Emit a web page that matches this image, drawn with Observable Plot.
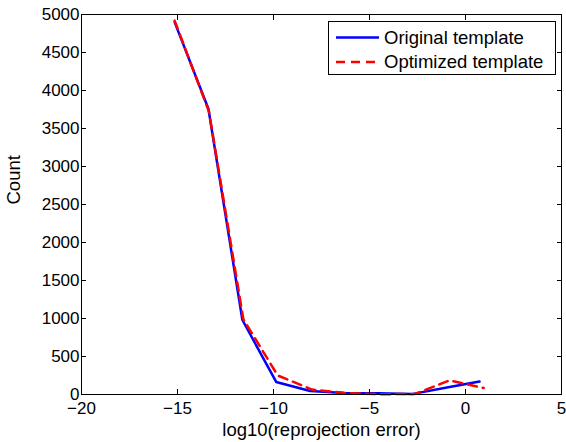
<!DOCTYPE html>
<html>
<head>
<meta charset="utf-8">
<script src="https://cdn.jsdelivr.net/npm/d3@7"></script>
<script src="https://cdn.jsdelivr.net/npm/@observablehq/plot@0.6"></script>
<style>
  html, body { margin: 0; padding: 0; background: #fff; }
  #chart svg { font-family: "Liberation Sans", Helvetica, Arial, sans-serif; }
</style>
</head>
<body>
<div id="chart"></div>
<script>
// Series names
const seriesNames = ["Original template", "Optimized template"];
// Original template (blue)
const origX = [-15.15, -13.39, -11.62, -9.86, -8.09, -6.33, -4.57, -2.80, -1.04, 0.73];
const origY = [4900, 3760, 980, 165, 45, 20, 15, 5, 88, 170];
// Optimized template (red dashed)
const optX = [-15.15, -13.36, -11.57, -9.78, -7.99, -6.20, -4.41, -2.63, -0.84, 0.95];
const optY = [4920, 3720, 990, 250, 65, 18, 3, 8, 185, 85];
// Ticks
const xTicks = [-20, -15, -10, -5, 0, 5];
const yTicks = [0, 500, 1000, 1500, 2000, 2500, 3000, 3500, 4000, 4500, 5000];

const orig = origX.map((x, i) => ({x, y: origY[i]}));
const opt = optX.map((x, i) => ({x, y: optY[i]}));

const FONT = "'Liberation Sans', Helvetica, Arial, sans-serif";

const plot = Plot.plot({
  width: 566,
  height: 442,
  marginLeft: 81,
  marginRight: 5,
  marginTop: 14,
  marginBottom: 48,
  style: {fontSize: "17px", fontFamily: FONT, color: "#000", background: "#fff"},
  x: {domain: [-20, 5]},
  y: {domain: [0, 5000]},
  marks: [
    Plot.lineY(orig, {x: "x", y: "y", stroke: "#0000ff", strokeWidth: 2.5}),
    Plot.lineY(opt, {x: "x", y: "y", stroke: "#ff0000", strokeWidth: 2.5, strokeDasharray: "9,6"}),
    Plot.frame({stroke: "#000", strokeWidth: 1}),
    Plot.axisX({ticks: xTicks, tickSize: -5, tickPadding: 12, label: null}),
    Plot.axisX({anchor: "top", ticks: xTicks, tickSize: -5, text: null, label: null}),
    Plot.axisY({ticks: yTicks, tickFormat: "d", tickSize: -5, tickPadding: 7, label: null}),
    Plot.axisY({anchor: "right", ticks: yTicks, tickSize: -5, text: null, label: null}),
    Plot.text(["log10(reprojection error)"], {frameAnchor: "bottom", dy: 41, fontSize: 18.5, text: d => d, lineAnchor: "bottom"}),
    Plot.text(["Count"], {frameAnchor: "left", dx: -67, rotate: -90, fontSize: 18.5, text: d => d})
  ]
});
document.getElementById("chart").appendChild(plot);

// Legend box inside the axes (top right)
const svg = d3.select(plot);
const lg = svg.append("g").attr("font-size", 18.5).attr("font-family", FONT).attr("text-anchor", "start");
lg.append("rect").attr("x", 328.5).attr("y", 21.5).attr("width", 227).attr("height", 53)
  .attr("fill", "#fff").attr("stroke", "#000").attr("stroke-width", 1);
const styles = [{stroke: "#0000ff", dash: null}, {stroke: "#ff0000", dash: "9,6"}];
seriesNames.forEach((name, i) => {
  const cy = 37.5 + i * 24.5;
  lg.append("line").attr("x1", 336).attr("x2", 379).attr("y1", cy).attr("y2", cy)
    .attr("stroke", styles[i].stroke).attr("stroke-width", 2.5)
    .attr("stroke-dasharray", styles[i].dash);
  lg.append("text").attr("x", 384).attr("y", cy).attr("dy", "0.35em").attr("fill", "#000").text(name);
});
</script>
</body>
</html>
